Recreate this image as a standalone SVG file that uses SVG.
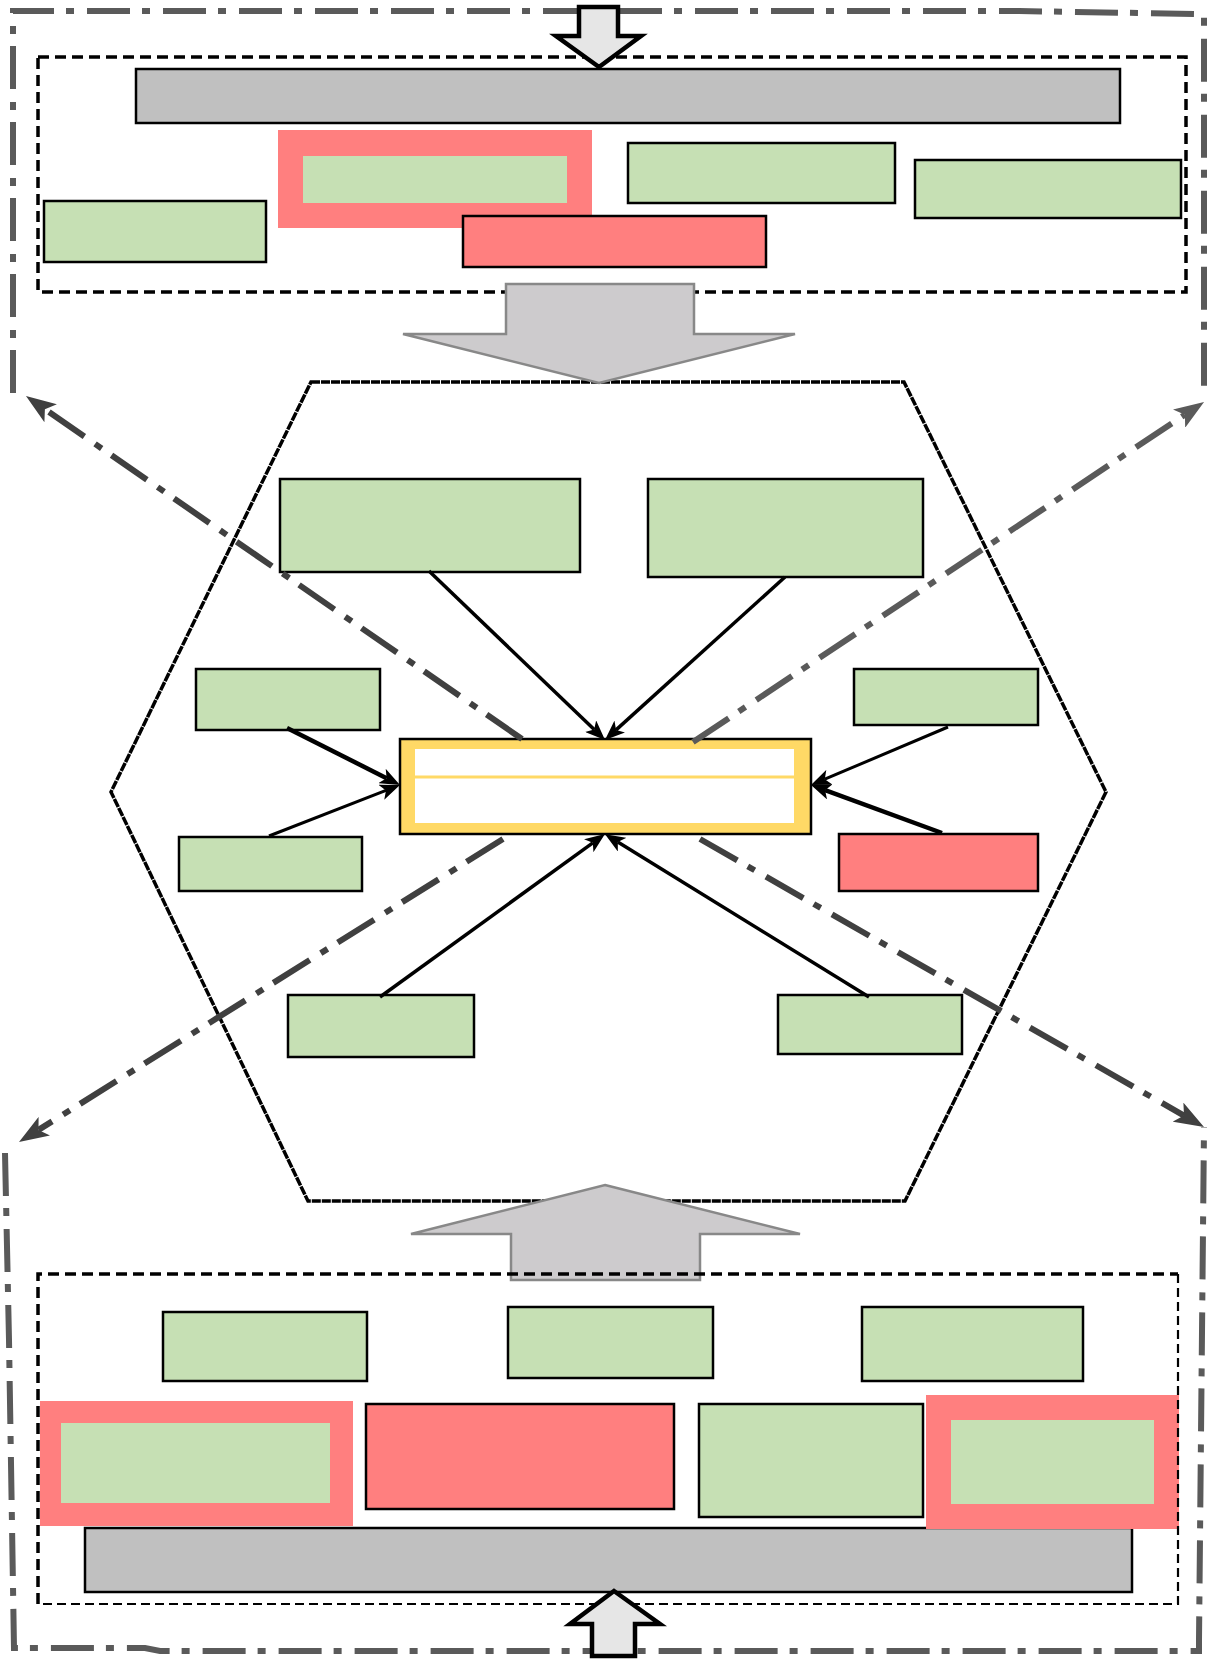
<svg xmlns="http://www.w3.org/2000/svg" width="1208" height="1664" viewBox="0 0 1208 1664">
<defs>
<style>
.g{fill:#c6e0b4;stroke:#000;stroke-width:2.5}
.gi{fill:#c6e0b4;stroke:none}
.r{fill:#ff7f7f;stroke:#000;stroke-width:2.5}
.pk{fill:#ff7f7f;stroke:none}
.gr{fill:#c0c0c0;stroke:#000;stroke-width:2.5}
.bigarrow{fill:#cdcbcd;stroke:#888;stroke-width:2.5}
.smallarrow{fill:#e6e6e6;stroke:#000;stroke-width:4.5;stroke-linejoin:miter}
.cont{fill:none;stroke:#000;stroke-width:3.5;stroke-dasharray:11 6}
.border{fill:none;stroke:#5a5a5a;stroke-width:6;stroke-dasharray:43 12 8 13}
.dd{fill:none;stroke-width:6;stroke-dasharray:43 12 8 13}
.dk{stroke:#404040}
.md{stroke:#5a5a5a}
.con{fill:none;stroke:#000;stroke-width:3.5}
</style>
<marker id="ab" viewBox="0 0 20 16" refX="5" refY="8" markerWidth="20" markerHeight="16" markerUnits="userSpaceOnUse" orient="auto">
<path d="M0,0 L20,8 L0,16 L5,8 z" fill="#000"/>
</marker>
<marker id="ad" viewBox="0 0 30 22" refX="7" refY="11" markerWidth="30" markerHeight="22" markerUnits="userSpaceOnUse" orient="auto">
<path d="M0,0 L30,11 L0,22 L7,11 z" fill="#404040"/>
</marker>
<marker id="am" viewBox="0 0 30 22" refX="7" refY="11" markerWidth="30" markerHeight="22" markerUnits="userSpaceOnUse" orient="auto">
<path d="M0,0 L30,11 L0,22 L7,11 z" fill="#5a5a5a"/>
</marker>
</defs>

<g id="outer-borders">
<path class="border" d="M13,393 L13,11 L1019,11 L1201,14 L1204,17 L1204,397"/>
<path class="border" d="M5,1153 L9,1340 L14,1648 L145,1648 L160,1651 L1199,1651 L1199,1640 L1204,1127"/>
</g>

<g id="hexagon">
<path d="M311,382 L904,382 L1106,792 L905,1201 L308,1201 L111,792 Z" fill="none" stroke="#000" stroke-width="3.5" stroke-dasharray="9 1"/>
</g>

<g id="top-group">
<rect class="gr" x="136" y="69" width="984" height="54"/>
<g id="top-pink">
<rect class="pk" x="278" y="130" width="314" height="98"/>
<rect class="gi" x="303" y="156" width="264" height="47"/>
</g>
<rect id="top-green-left" class="g" x="44" y="201" width="222" height="61"/>
<rect id="top-red" class="r" x="463" y="216" width="303" height="51"/>
<rect id="top-green-mid" class="g" x="628" y="143" width="267" height="60"/>
<rect id="top-green-right" class="g" x="915" y="160" width="266" height="58"/>
<rect class="cont" x="38" y="57" width="1148" height="235"/>
</g>

<g id="top-small-arrow">
<polygon class="smallarrow" points="579,7 618,7 618,36 641,36 599,67 556,36 579,36"/>
</g>
<g id="top-big-arrow">
<polygon class="bigarrow" points="506,284 694,284 694,334 795,334 599,383 403,334 506,334"/>
</g>

<g id="inner-nodes">
<rect id="n1" class="g" x="280" y="479" width="300" height="93"/>
<rect id="n2" class="g" x="648" y="479" width="275" height="98"/>
<rect id="n3" class="g" x="196" y="669" width="184" height="61"/>
<rect id="n4" class="g" x="854" y="669" width="184" height="56"/>
<rect id="n5" class="g" x="179" y="837" width="183" height="54"/>
<rect id="n6" class="r" x="839" y="834" width="199" height="57"/>
<rect id="n7" class="g" x="288" y="995" width="186" height="62"/>
<rect id="n8" class="g" x="778" y="995" width="184" height="59"/>
<g id="center">
<rect x="400" y="739" width="411" height="95" fill="#ffd966" stroke="#000" stroke-width="2.5"/>
<rect x="415" y="749" width="379" height="74" fill="#fff"/>
<line x1="415" y1="777" x2="794" y2="777" stroke="#ffd966" stroke-width="3"/>
</g>
</g>

<g id="connectors">
<path class="con" d="M429,571 L594.2,729.6" marker-end="url(#ab)"/>
<path class="con" d="M785,577 L616.1,729.9" marker-end="url(#ab)"/>
<path class="con" style="stroke-width:4.5" d="M287,728 L386.6,778.2" marker-end="url(#ab)"/>
<path class="con" style="stroke-width:3" d="M269,836 L386.0,790.4" marker-end="url(#ab)"/>
<path class="con" style="stroke-width:3" d="M948,727 L824.8,779.2" marker-end="url(#ab)"/>
<path class="con" style="stroke-width:4.5" d="M942,833 L825.1,790.2" marker-end="url(#ab)"/>
<path class="con" d="M380,997 L592.8,842.8" marker-end="url(#ab)"/>
<path class="con" d="M869,997 L617.8,842.1" marker-end="url(#ab)"/>
<path class="dd dk" d="M522,739 L44.9,409.2" marker-end="url(#ad)"/>
<path class="dd md" d="M693,742 L1184.9,414.7" marker-end="url(#am)"/>
<path class="dd dk" d="M503,839 L38.5,1129.9" marker-end="url(#ad)"/>
<path class="dd dk" d="M700,839 L1184.0,1115.6" marker-end="url(#ad)"/>
</g>

<g id="bottom-big-arrow">
<polygon class="bigarrow" points="605,1185 800,1234 700,1234 700,1280 511,1280 511,1234 411,1234"/>
</g>

<g id="bottom-group">
<rect class="gr" x="85" y="1528" width="1047" height="64"/>
<rect id="b-green-a" class="g" x="163" y="1312" width="204" height="69"/>
<rect id="b-green-b" class="g" x="508" y="1307" width="205" height="71"/>
<rect id="b-green-c" class="g" x="862" y="1307" width="221" height="74"/>
<g id="b-pink-left">
<rect class="pk" x="40" y="1401" width="313" height="125"/>
<rect class="gi" x="61" y="1423" width="269" height="80"/>
</g>
<rect id="b-red" class="r" x="366" y="1404" width="308" height="105"/>
<rect id="b-green-d" class="g" x="699" y="1404" width="224" height="113"/>
<g id="b-pink-right">
<rect class="pk" x="926" y="1395" width="253" height="134"/>
<rect class="gi" x="951" y="1420" width="203" height="84"/>
</g>
<path class="cont" d="M38,1604 L38,1274 L1178,1274"/>
<path class="cont" style="stroke-width:2.2;stroke-dasharray:9 5" d="M1178,1274 L1178,1604 L38,1604"/>
</g>

<g id="bottom-small-arrow">
<polygon class="smallarrow" points="614,1591 660,1624 635,1624 635,1656 592,1656 592,1624 570,1624"/>
</g>
</svg>
